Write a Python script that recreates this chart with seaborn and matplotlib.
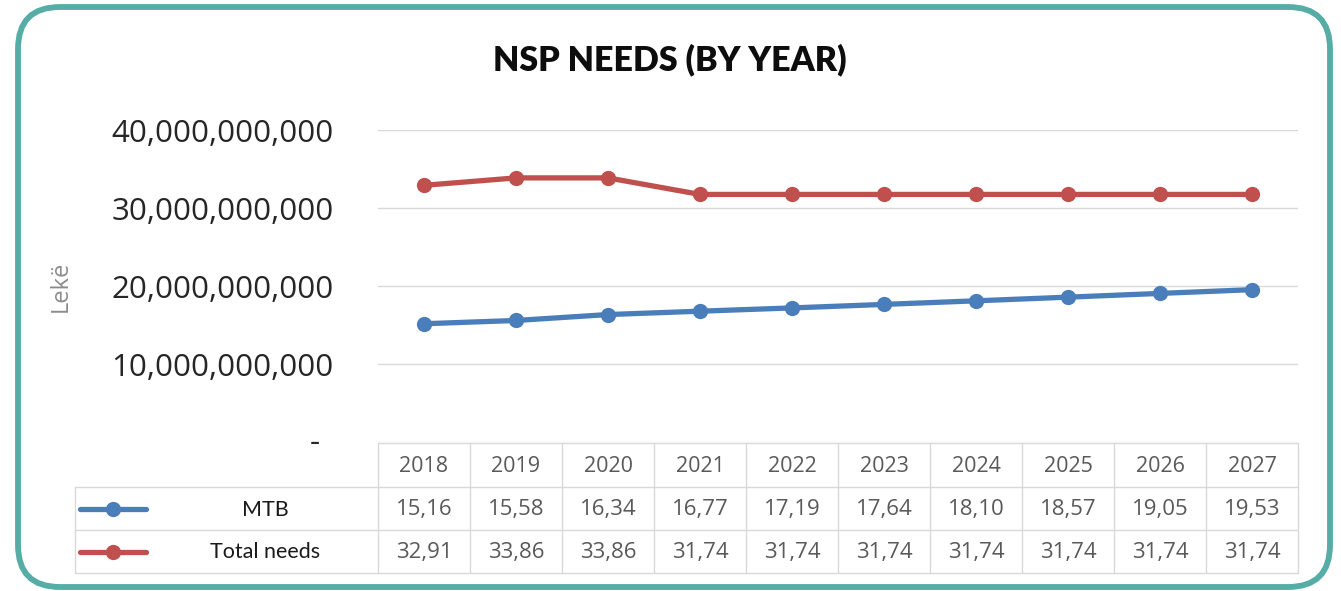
import matplotlib
matplotlib.use("Agg")
import matplotlib.pyplot as plt
import matplotlib.transforms as mtransforms
from matplotlib.patches import FancyBboxPatch
import seaborn as sns
import pandas as pd

# ---------------- data ----------------
years = [2018, 2019, 2020, 2021, 2022, 2023, 2024, 2025, 2026, 2027]
mtb = [15.16, 15.58, 16.34, 16.77, 17.19, 17.64, 18.10, 18.57, 19.05, 19.53]          # billion Lekë
total_needs = [32.91, 33.86, 33.86, 31.74, 31.74, 31.74, 31.74, 31.74, 31.74, 31.74]  # billion Lekë
series_names = ["MTB", "Total needs"]
y_ticks = [0, 10e9, 20e9, 30e9, 40e9]
y_tick_labels = ["-", "10,000,000,000", "20,000,000,000", "30,000,000,000", "40,000,000,000"]
title = "NSP NEEDS (BY YEAR)"
y_label = "Lekë"

colors = {"MTB": "#4A7EBB", "Total needs": "#C0504D"}

df = pd.DataFrame({
    "year": years * 2,
    "value": [v * 1e9 for v in mtb] + [v * 1e9 for v in total_needs],
    "series": ["MTB"] * len(years) + ["Total needs"] * len(years),
})

sns.set_theme(style="white")
plt.rcParams["font.family"] = ["Open Sans", "DejaVu Sans"]

W, H = 1341, 591
fig = plt.figure(figsize=(W / 100, H / 100), dpi=100)

# background frame
bg = fig.add_axes([0, 0, 1, 1], zorder=-10)
bg.set_xlim(0, W)
bg.set_ylim(H, 0)
bg.axis("off")
bg.add_patch(FancyBboxPatch((18, 7), 1312, 580,
                            boxstyle="round,pad=0,rounding_size=42",
                            facecolor="white", edgecolor="#55ADA6", linewidth=4.2))

# main plot axes
ax = fig.add_axes([378 / W, 1 - 442 / H, 920 / W, (442 - 130) / H])
ax.patch.set_alpha(0)
sns.lineplot(data=df, x="year", y="value", hue="series", palette=colors,
             marker="o", markersize=11, markeredgewidth=0, linewidth=3.8,
             legend=False, ax=ax, zorder=3)
ax.set_xlim(years[0] - 0.5, years[-1] + 0.5)
ax.set_ylim(0, 40e9)
ax.set_xticks([])
ax.set_yticks(y_ticks)
ax.set_yticklabels(y_tick_labels)
ax.tick_params(axis="y", length=0, pad=32, labelsize=22.5, labelcolor="#262626")
ax.grid(axis="y", color="#D9D9D9", linewidth=1.0)
ax.grid(axis="x", visible=False)
for s in ax.spines.values():
    s.set_visible(False)
ax.set_xlabel("")
ax.set_ylabel(y_label, color="#8C8C8C", fontsize=17)
ax.yaxis.set_label_coords((73 - 378) / 920, (442 - 286) / 312)
# accounting-style dash for zero sits a bit left of the other labels
lbl0 = ax.get_yticklabels()[0]
lbl0.set_transform(lbl0.get_transform() + mtransforms.ScaledTranslation(-14 / 100, 3 / 100, fig.dpi_scale_trans))

fig.text(670 / W, 1 - 60 / H, title, ha="center", va="center",
         fontsize=24.5, fontweight="heavy", color="#0D0D0D", family=["Lato", "DejaVu Sans"])

# data table (x in category units, y in pixel rows)
tab = fig.add_axes([75 / W, 1 - 573 / H, (1298 - 75) / W, (573 - 443) / H])
col_w = 92.0
xmin = years[0] - 0.5 - (378 - 75) / col_w
xmax = years[-1] + 0.5
rows = [0, 44, 87, 130]
tab.set_xlim(xmin, xmax)
tab.set_ylim(130, 0)
tab.axis("off")
gc = "#D9D9D9"
tab.plot([years[0] - 0.5, xmax], [rows[0], rows[0]], color=gc, lw=1, clip_on=False)
for r in rows[1:]:
    tab.plot([xmin, xmax], [r, r], color=gc, lw=1, clip_on=False)
for i in range(len(years) + 1):
    xv = years[0] - 0.5 + i
    tab.plot([xv, xv], [rows[0], rows[3]], color=gc, lw=1, clip_on=False)
tab.plot([xmin, xmin], [rows[1], rows[3]], color=gc, lw=1, clip_on=False)

for y in years:
    tab.text(y, (rows[0] + rows[1]) / 2 + 1, str(y), ha="center", va="center",
             fontsize=15.5, color="#595959")

for r, (name, vals) in enumerate(zip(series_names, [mtb, total_needs]), start=1):
    yc = (rows[r] + rows[r + 1]) / 2 + 1
    for y, v in zip(years, vals):
        tab.text(y, yc, f"{v:.2f}".replace(".", ","), ha="center", va="center",
                 fontsize=16, color="#595959")
    kc = xmin + (113 - 75) / col_w
    half = 33 / col_w
    tab.plot([kc - half, kc + half], [yc - 1, yc - 1], color=colors[name], lw=3.8,
             solid_capstyle="round", clip_on=False)
    tab.plot([kc], [yc - 1], marker="o", markersize=11, markeredgewidth=0,
             color=colors[name], clip_on=False)
    tab.text(xmin + (265 - 75) / col_w, yc, name, ha="center", va="center",
             fontsize=15.5, color="#1A1A1A", family=["Lato", "DejaVu Sans"])

fig.savefig("out.png", dpi=100)
